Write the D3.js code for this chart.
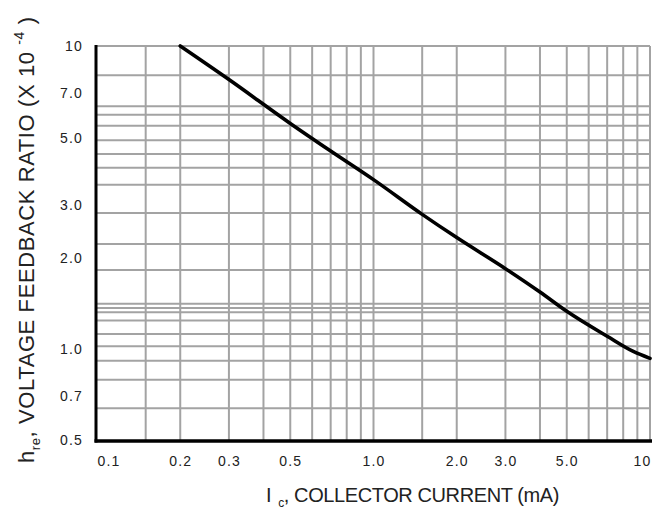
<!DOCTYPE html>
<html>
<head>
<meta charset="utf-8">
<script src="https://cdn.jsdelivr.net/npm/d3@7"></script>
<style>
  html, body { margin: 0; padding: 0; background: #fff; }
  svg { display: block; }
  text { font-family: "Liberation Sans", Arial, Helvetica, sans-serif; fill: #222; }
</style>
</head>
<body>
<svg id="chart" width="660" height="511"></svg>
<script>
// Collector current (mA) and voltage feedback ratio h_re (x 10^-4)
const currentMA = [0.2, 0.3, 0.5, 0.7, 1.0, 1.5, 2.0, 3.0, 4.0, 5.0, 7.0, 8.7, 10];
const hre       = [10, 7.75, 5.55, 4.5, 3.62, 2.78, 2.33, 1.84, 1.54, 1.33, 1.10, 0.98, 0.93];

// Labelled ticks
const xTickValues = [0.1, 0.2, 0.3, 0.5, 1, 2, 3, 5, 10];
const xTickLabels = ["0.1", "0.2", "0.3", "0.5", "1.0", "2.0", "3.0", "5.0", "10"];
const yTickValues = [0.5, 0.7, 1, 2, 3, 5, 7, 10];
const yTickLabels = ["0.5", "0.7", "1.0", "2.0", "3.0", "5.0", "7.0", "10"];

// Grid rulings of the log paper
const xGridValues = [0.15, 0.2, 0.3, 0.4, 0.5, 0.6, 0.7, 0.8, 0.9, 1, 1.5, 2, 3, 4, 5, 6, 7, 8, 9, 10];
const yGridValues = [10, 8, 6.32, 5.93, 5.45, 4.88, 4.40, 3.96, 3.48, 2.81, 2.22, 1.82,
                     1.41, 1.365, 1.32, 1.24, 1.12, 1.02, 0.913, 0.79, 0.637];

const svg = d3.select("#chart");
const plot = { left: 97, right: 650, top: 46, bottom: 440 };

const x = d3.scaleLog().domain([0.1, 10]).range([plot.left, plot.right]);
const y = d3.scaleLog().domain([0.5, 10]).range([plot.bottom, plot.top]);

// Grid
const grid = svg.append("g").attr("stroke", "#a3a3a3").attr("stroke-width", 2);
grid.selectAll("line.v").data(xGridValues).join("line")
  .attr("class", "v")
  .attr("x1", d => x(d)).attr("x2", d => x(d))
  .attr("y1", plot.top).attr("y2", plot.bottom);
grid.selectAll("line.h").data(yGridValues).join("line")
  .attr("class", "h")
  .attr("x1", plot.left).attr("x2", plot.right)
  .attr("y1", d => y(d)).attr("y2", d => y(d));

// Heavy left and bottom axis lines
svg.append("line")
  .attr("x1", plot.left - 1).attr("x2", plot.left - 1)
  .attr("y1", plot.top - 1).attr("y2", plot.bottom + 2.5)
  .attr("stroke", "#000").attr("stroke-width", 3);
svg.append("line")
  .attr("x1", plot.left - 2.5).attr("x2", plot.right + 2)
  .attr("y1", plot.bottom + 1).attr("y2", plot.bottom + 1)
  .attr("stroke", "#000").attr("stroke-width", 3.5);

// Tick labels
const xAxis = d3.axisBottom(x).tickValues(xTickValues)
  .tickFormat((d, i) => xTickLabels[i]).tickSize(0).tickPadding(0);
const gx = svg.append("g").attr("transform", `translate(0,${plot.bottom + 16})`).call(xAxis);
gx.select(".domain").remove();
gx.selectAll("text")
  .attr("font-size", 14).attr("letter-spacing", 1.2).attr("dy", "0.71em")
  .attr("font-family", null).attr("fill", "#222");
gx.selectAll("text").filter(d => d === 0.1).attr("text-anchor", "start").attr("dx", 0);
gx.selectAll("text").filter(d => d === 10).attr("text-anchor", "end").attr("dx", 1);

const yAxis = d3.axisLeft(y).tickValues(yTickValues)
  .tickFormat((d, i) => yTickLabels[i]).tickSize(0).tickPadding(0);
const gy = svg.append("g").attr("transform", `translate(${plot.left - 14},0)`).call(yAxis);
gy.select(".domain").remove();
gy.selectAll("text")
  .attr("font-size", 14).attr("letter-spacing", 1.2).attr("dy", "0.35em")
  .attr("font-family", null).attr("fill", "#222");

// Response curve
const line = d3.line()
  .x((d, i) => x(currentMA[i]))
  .y(d => y(d))
  .curve(d3.curveMonotoneX);
svg.append("path")
  .datum(hre)
  .attr("d", line)
  .attr("fill", "none")
  .attr("stroke", "#000")
  .attr("stroke-width", 3.6)
  .attr("stroke-linecap", "round");

// Y axis title
const yt = svg.append("text")
  .attr("transform", "translate(34,463) rotate(-90)")
  .attr("font-size", 22).attr("letter-spacing", 0.6).attr("fill", "#333");
yt.append("tspan").text("h");
yt.append("tspan").attr("font-size", 13).attr("dy", 6).text("re");
yt.append("tspan").attr("dy", -6).text(", VOLTAGE FEEDBACK RATIO (X 10 ");
yt.append("tspan").attr("font-size", 14).attr("dy", -10).text("-4");
yt.append("tspan").attr("dy", 10).text(" )");

// X axis title
const xt = svg.append("text")
  .attr("transform", "translate(266,502)")
  .attr("font-size", 20).attr("letter-spacing", -0.4).attr("fill", "#333");
xt.append("tspan").text("I");
xt.append("tspan").attr("font-size", 12).attr("dy", 5).attr("dx", 7).text("c");
xt.append("tspan").attr("dy", -5).text(", COLLECTOR CURRENT (mA)");
</script>
</body>
</html>
